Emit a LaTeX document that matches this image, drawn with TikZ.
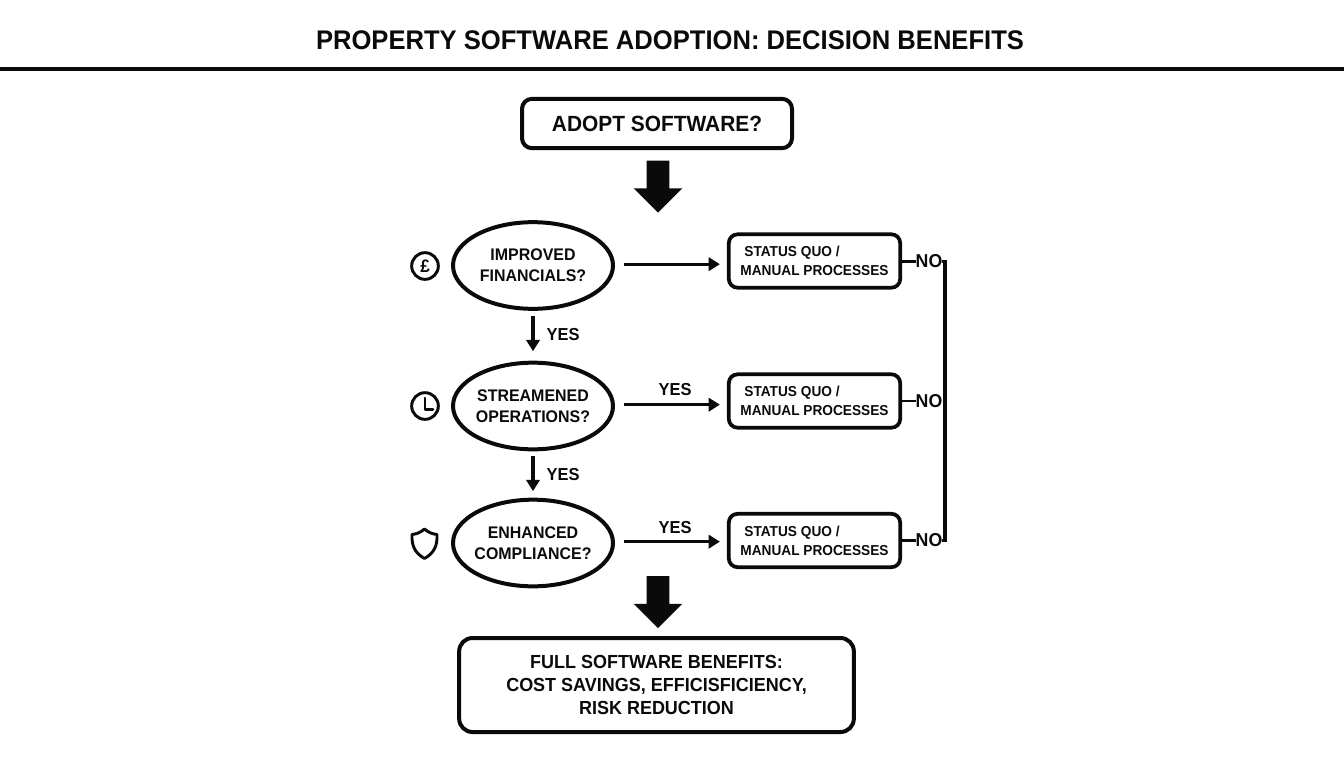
\documentclass[tikz,border=0pt]{standalone}
\usepackage{fontspec}
\setmainfont[FakeStretch=0.95]{Liberation Sans}
\usetikzlibrary{shapes.geometric,shapes.arrows,arrows.meta}
\definecolor{ink}{HTML}{0A0A0A}
\newcommand{\fsz}[2]{\fontsize{#1pt}{#2pt}\selectfont\bfseries}
\tikzset{
  boxbase/.style={draw=ink,text=ink,rectangle,inner sep=0pt,outer sep=0pt,align=center},
  startbox/.style={boxbase,line width=3pt,rounded corners=7.5pt,minimum width=202.5pt,minimum height=37pt,font=\fsz{16.5}{20}},
  statusbox/.style={boxbase,line width=2.8pt,rounded corners=6.5pt,minimum width=128.5pt,minimum height=40pt,font=\fsz{10.8}{14.2},align=left},
  endbox/.style={boxbase,line width=3pt,rounded corners=10pt,minimum width=296pt,minimum height=70.5pt,font=\fsz{14.2}{17.3}},
  decision/.style={draw=ink,text=ink,ellipse,line width=3pt,inner xsep=-10pt,inner ysep=0pt,outer sep=0pt,minimum width=120pt,minimum height=65pt,align=center,font=\fsz{12.6}{15.7}},
  lbl/.style={text=ink,inner sep=0pt,outer sep=0pt,font=\fsz{13}{16}},
  nolbl/.style={text=ink,inner sep=0pt,outer sep=0pt,font=\fsz{14}{16}},
  blockarrow/.style={fill=ink,single arrow,shape border rotate=270,minimum width=36pt,minimum height=39pt,single arrow head extend=9.75pt,single arrow head indent=0pt,inner xsep=8.25pt,inner ysep=0pt,outer sep=0pt},
  conn/.style={draw=ink,line width=2.2pt},
  arr/.style={conn,-{Triangle[length=8.5pt,width=10pt]}},
  vconn/.style={arr,line width=2.6pt},
  bus/.style={draw=ink,line width=2.6pt},
  icon/.style={draw=ink,line width=2.2pt},
}
\begin{document}
\begin{tikzpicture}[x=0.75pt,y=-0.75pt]
\useasboundingbox (0,0) rectangle (1344,768);
% title
\node[text=ink,inner sep=0pt,font=\fsz{20.2}{24}] (title) at (670,40) {PROPERTY SOFTWARE ADOPTION: DECISION BENEFITS};
\coordinate (ruleL) at (0,69);
\coordinate (ruleR) at (1344,69);
\draw[draw=ink,line width=3pt] (ruleL) -- (ruleR);
% nodes
\node[startbox] (start) at (657,123.5) {ADOPT SOFTWARE?};
\node[blockarrow] (big1) at (658,181) {};
\node[decision] (e1) at (533,265.5) {IMPROVED\\FINANCIALS?};
\node[decision] (e2) at (533,406) {STREAMENED\\OPERATIONS?};
\node[decision] (e3) at (533,543) {ENHANCED\\COMPLIANCE?};
\node[statusbox] (s1) at (814.5,261) {\hspace*{3pt}STATUS QUO /\\MANUAL PROCESSES};
\node[statusbox] (s2) at (814.5,401) {\hspace*{3pt}STATUS QUO /\\MANUAL PROCESSES};
\node[statusbox] (s3) at (814.5,540.5) {\hspace*{3pt}STATUS QUO /\\MANUAL PROCESSES};
\node[blockarrow] (big2) at (658,596.5) {};
\node[endbox] (final) at (656.5,685) {FULL SOFTWARE BENEFITS:\\COST SAVINGS, EFFICISFICIENCY,\\RISK REDUCTION};
% labels
\node[lbl] (y1) at (563,335) {YES};
\node[lbl] (y2) at (563,475) {YES};
\node[lbl] (y3) at (675,390) {YES};
\node[lbl] (y4) at (675,528) {YES};
\node[nolbl] (n1) at (929,261.5) {NO};
\node[nolbl] (n2) at (929,401) {NO};
\node[nolbl] (n3) at (929,540.5) {NO};
% connectors
\draw[arr,shorten <=8pt,shorten >=6.7pt] ([yshift=1pt]e1.east) -- ([yshift=1pt]e1.east -| s1.west);
\draw[arr,shorten <=8pt,shorten >=6.7pt] ([yshift=1pt]e2.east) -- ([yshift=1pt]e2.east -| s2.west);
\draw[arr,shorten <=8pt,shorten >=6.7pt] ([yshift=1pt]e3.east) -- ([yshift=1pt]e3.east -| s3.west);
\draw[vconn,shorten <=5pt,shorten >=8.6pt] (e1.south) -- (e2.north);
\draw[vconn,shorten <=5pt,shorten >=6.4pt] (e2.south) -- (e3.north);
\draw[conn] (n1.west -| s1.east) -- (n1.west);
\draw[conn] (n2.west -| s2.east) -- (n2.west);
\draw[conn] (n3.west -| s3.east) -- (n3.west);
\coordinate (busX) at (945,400);
\draw[bus,line join=miter] (n1.east) -- (n1.east -| busX) -- (n3.east -| busX) -- (n3.east);
% icons
\node[draw=ink,line width=2.2pt,circle,minimum size=20pt,inner sep=0pt,text=ink,font=\fsz{13.5}{14}] (pound) at (425,266) {£};
\node[draw=ink,line width=2.2pt,circle,minimum size=20pt,inner sep=0pt] (clock) at (425,406) {};
\draw[icon,line cap=round,line join=round] (425,398) -- (425,409.5) -- (433,409.5);
\draw[icon,line join=round] (424.5,529) .. controls (429,533) and (433,534) .. (437,534.5) .. controls (437.5,546) and (434,553) .. (424.5,558.5) .. controls (415,553) and (411.5,546) .. (412,534.5) .. controls (416,534) and (420,533) .. (424.5,529) -- cycle;
\end{tikzpicture}
\end{document}
